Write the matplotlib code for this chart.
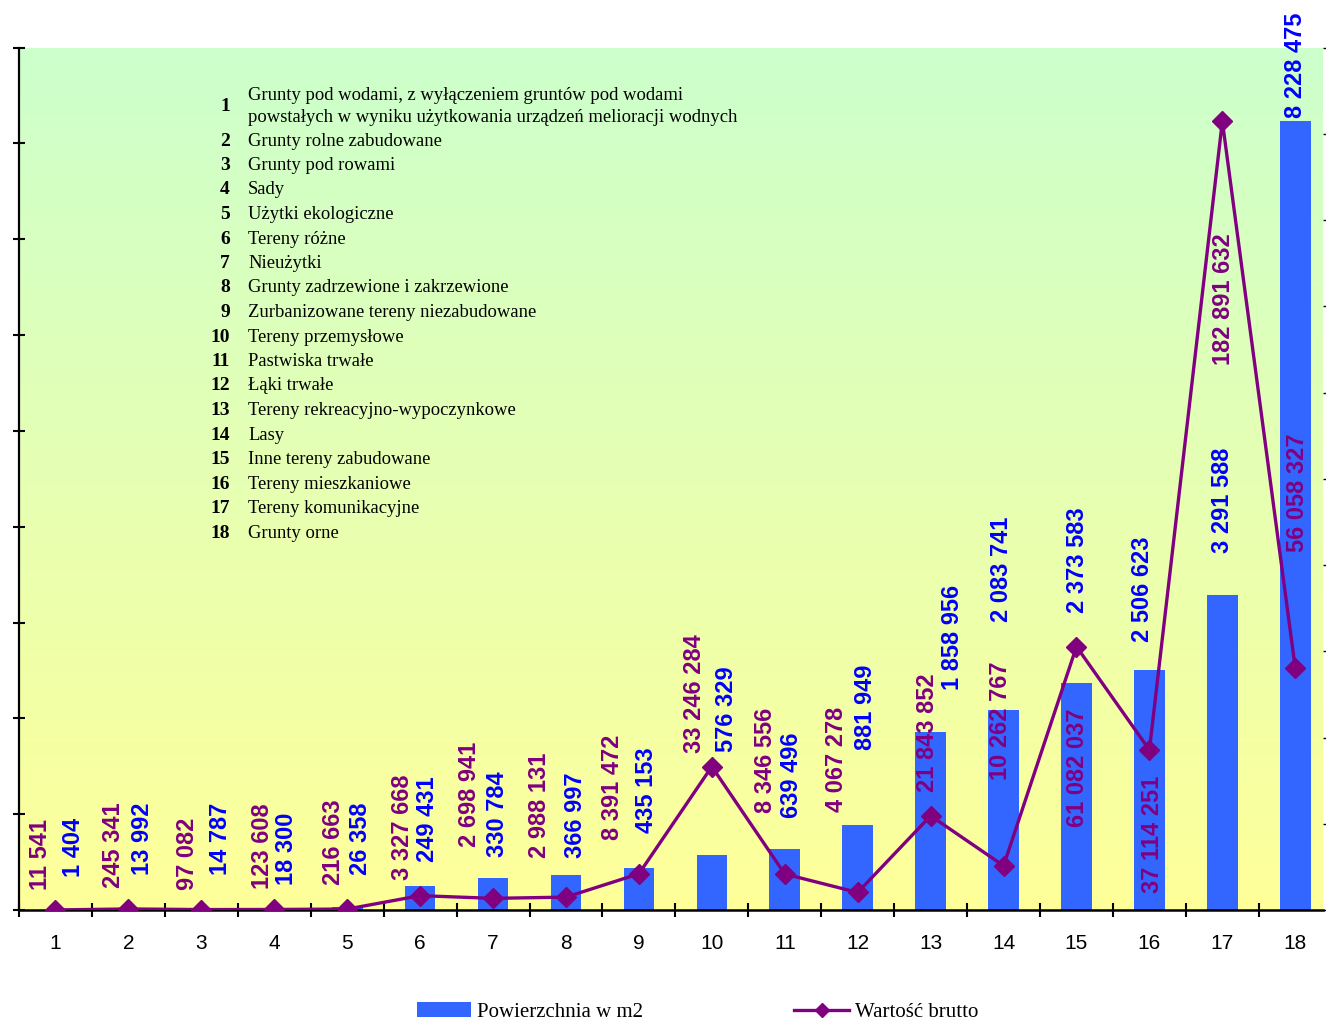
import numpy as np
import matplotlib
matplotlib.use("Agg")
import matplotlib.pyplot as plt
from matplotlib.patches import Patch
from matplotlib.lines import Line2D
from matplotlib.transforms import blended_transform_factory

# ---------------- data ----------------
categories = list(range(1, 19))
descriptions = [
    "Grunty pod wodami, z wyłączeniem gruntów pod wodami\npowstałych w wyniku użytkowania urządzeń melioracji wodnych",
    "Grunty rolne zabudowane",
    "Grunty pod rowami",
    "Sady",
    "Użytki ekologiczne",
    "Tereny różne",
    "Nieużytki",
    "Grunty zadrzewione i zakrzewione",
    "Zurbanizowane tereny niezabudowane",
    "Tereny przemysłowe",
    "Pastwiska trwałe",
    "Łąki trwałe",
    "Tereny rekreacyjno-wypoczynkowe",
    "Lasy",
    "Inne tereny zabudowane",
    "Tereny mieszkaniowe",
    "Tereny komunikacyjne",
    "Grunty orne",
]
area_m2 = [1404, 13992, 14787, 18300, 26358, 249431, 330784, 366997, 435153,
           576329, 639496, 881949, 1858956, 2083741, 2373583, 2506623,
           3291588, 8228475]
gross_value = [11541, 245341, 97082, 123608, 216663, 3327668, 2698941, 2988131,
               8391472, 33246284, 8346556, 4067278, 21843852, 10262767,
               61082037, 37114251, 182891632, 56058327]
series_names = ["Powierzchnia w m2", "Wartość brutto"]

# ---------------- label layout (pixel offsets / axes fractions) ----------------
val_dx = [-15, -15, -14, -12, -14, -18, -24, -26, -26, -17, -19, -21, -3, -3, 1, 3, 1, 2]
val_y = [0.0232, 0.0255, 0.0232, 0.0243, 0.0290, 0.0348, 0.0730, 0.0603, 0.0811,
         0.1819, 0.1124, 0.1136, 0.1367, 0.1506, 0.0962, 0.0197, 0.6315, 0.4148]
area_dx = [18, 14, 19, 12, 13, 7, 4, 10, 8, 15, 7, 8, 22, -2, 1, -7, 0, 0]
area_y = [0.0382, 0.0406, 0.0406, 0.0290, 0.0406, 0.0556, 0.0614, 0.0603, 0.0892,
          0.1831, 0.1066, 0.1854, 0.2549, 0.3337, 0.3441, 0.3105, 0.4137, 0.9177]

BAR_C = "#3366FF"
LINE_C = "#800080"
LBL_BLUE = "#0000FF"

W, H = 1326, 1021
fig = plt.figure(figsize=(W / 100, H / 100), dpi=100)
ax_l, ax_r, ax_t, ax_b = 19, 1323, 47.5, 910
ax1 = fig.add_axes([ax_l / W, 1 - ax_b / H, (ax_r - ax_l) / W, (ax_b - ax_t) / H])
ax2 = ax1.twinx()

xmin = 0.5
xmax = 0.5 + (ax_r - ax_l) / 72.93
ax1.set_xlim(xmin, xmax)
ax1.set_ylim(0, 9e6)
ax2.set_ylim(0, 2e8)

# gradient background
top = np.array([204, 255, 204]) / 255
bot = np.array([255, 255, 153]) / 255
t = np.linspace(0, 1, 256)[:, None]
grad = (top[None, :] * (1 - t) + bot[None, :] * t)[:, None, :]
ax1.imshow(grad, extent=[xmin, xmax, 0, 9e6], aspect="auto", origin="upper", zorder=0)

ax1.bar(categories, area_m2, width=0.42, color=BAR_C, zorder=2)
ax2.plot(categories, gross_value, color=LINE_C, lw=2.4, marker="D", ms=10.5,
         mfc=LINE_C, mec=LINE_C, zorder=3)

# spines / ticks
for s in ["top", "right"]:
    ax1.spines[s].set_visible(False)
for s in ax2.spines.values():
    s.set_visible(False)
ax1.spines["left"].set_linewidth(1.6)
ax1.spines["bottom"].set_linewidth(1.8)

ax1.set_xticks(categories)
ax1.set_xticklabels([str(c) for c in categories], fontsize=15, family="Liberation Sans")
ax1.tick_params(axis="x", which="major", length=0, pad=17)
ax1.set_xticks(np.arange(0.5, xmax, 1.0), minor=True)
ax1.tick_params(axis="x", which="minor", direction="inout", length=10, width=1.5)
ax1.set_yticks(np.arange(0, 9e6 + 1, 1e6))
ax1.set_yticklabels([])
ax1.tick_params(axis="y", direction="inout", length=9, width=1.5)
ax2.set_yticks(np.arange(0, 2e8 + 1, 2e7))
ax2.set_yticklabels([])
ax2.tick_params(axis="y", direction="out", length=3, width=1)


def fmt(v):
    return f"{v:,}".replace(",", " ")


tr = blended_transform_factory(ax2.transData, ax2.transAxes)
for i, c in enumerate(categories):
    ax2.annotate(fmt(gross_value[i]), xy=(c, val_y[i]), xycoords=tr,
                 xytext=(val_dx[i], 0), textcoords="offset pixels",
                 rotation=90, ha="center", va="bottom", color=LINE_C,
                 fontsize=17, fontweight="bold", family="Liberation Sans",
                 annotation_clip=False, zorder=5)
    ax2.annotate(fmt(area_m2[i]), xy=(c, area_y[i]), xycoords=tr,
                 xytext=(area_dx[i], 0), textcoords="offset pixels",
                 rotation=90, ha="center", va="bottom", color=LBL_BLUE,
                 fontsize=17, fontweight="bold", family="Liberation Sans",
                 annotation_clip=False, zorder=5)

# category key inside the plot
num_x, txt_x = 230, 248
for i, (c, d) in enumerate(zip(categories, descriptions)):
    if i == 0:
        y = 106.5
    else:
        y = 141 + (i - 1) * 24.5
    fig.text(num_x / W, 1 - y / H, str(c), ha="right", va="center",
             fontsize=14, fontweight="bold", family="Liberation Serif")
    fig.text(txt_x / W, 1 - y / H, d, ha="left", va="center",
             fontsize=13.4, family="Liberation Serif", linespacing=1.4)

# legend
handles = [Patch(facecolor=BAR_C, edgecolor="none"),
           Line2D([], [], color=LINE_C, lw=2.4, marker="D", ms=7, mfc=LINE_C, mec=LINE_C)]
fig.legend(handles, series_names, loc="center left",
           bbox_to_anchor=(417 / W, 1 - 1012 / H), ncol=2, frameon=False,
           prop={"family": "Liberation Serif", "size": 15},
           borderpad=0, borderaxespad=0, handlelength=2.6, handletextpad=0.3,
           columnspacing=7.25)

fig.savefig("out.png", dpi=100)
